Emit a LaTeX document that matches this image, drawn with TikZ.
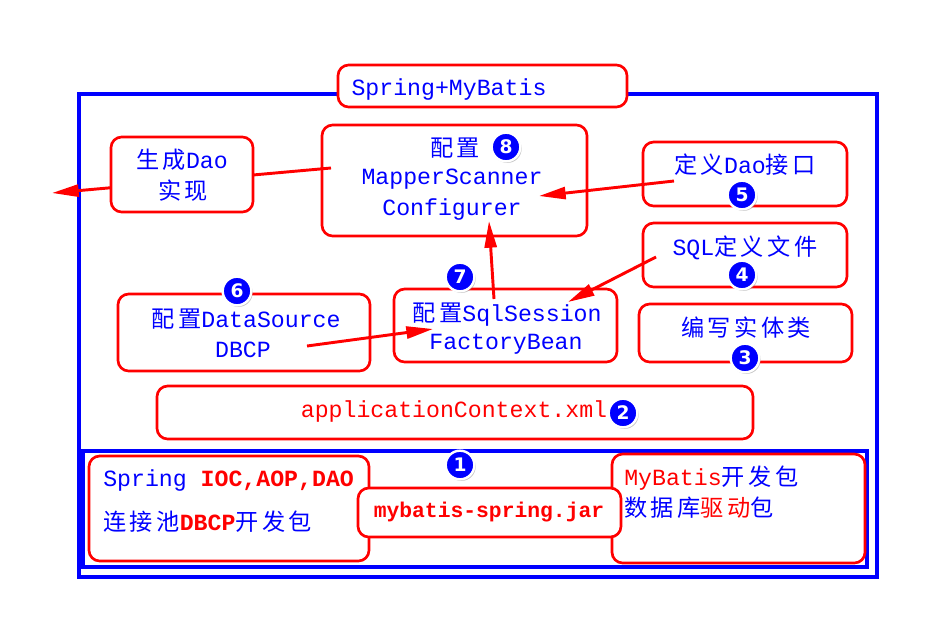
\documentclass[tikz,border=0pt]{standalone}
\usepackage{fontspec}
\setmonofont{Liberation Mono}
\newfontfamily\cjk[LetterSpace=15]{Noto Sans CJK SC}
\newfontfamily\numfont{DejaVu Sans}
\usetikzlibrary{arrows.meta,shadows}
\definecolor{rd}{RGB}{255,0,0}
\definecolor{bl}{RGB}{0,0,255}
\newcommand\C[1]{{\cjk #1}}
\newcommand\R[1]{\textcolor{rd}{#1}}
\newcommand\boxat[6]{\node[#1, minimum width={(#5-#3)*0.75pt}, minimum height={(#6-#4)*0.75pt}] (#2) at ({(#3+#5)/2},{(#4+#6)/2}) {};}
\begin{document}
\begin{tikzpicture}[x=0.75pt,y=-0.75pt,
  frame/.style={draw=bl, line width=2.4pt, inner sep=0},
  rbox/.style={draw=rd, line width=2pt, rounded corners=8pt, fill=white, inner sep=0},
  txt/.style={font=\ttfamily\fontsize{17.4}{20}\selectfont, text=bl, inner sep=0},
  small/.style={font=\ttfamily\bfseries\fontsize{16}{18}\selectfont, text=rd, inner sep=0},
  num/.style={circle, fill=bl, draw=white, line width=1.8pt, minimum size=21.5pt, inner sep=0,
    text=white, font=\numfont\bfseries\fontsize{14}{14}\selectfont,
    drop shadow={shadow xshift=1pt, shadow yshift=-1.2pt, opacity=0.45}},
  arr/.style={draw=rd, line width=2.2pt, -{Triangle[length=20pt,width=9pt]}}]
\useasboundingbox[fill=white] (0,0) rectangle (945,632);
% frames
\boxat{frame}{outer}{79}{94}{877}{577}
\boxat{frame}{inner}{83}{451}{867}{567}
% boxes
\boxat{rbox}{title}{338}{65}{627}{107}
\boxat{rbox}{mapper}{322}{125}{587}{236}
\coordinate (c1s) at (331,168);
\coordinate (c1e) at (52,193);
\draw[arr] (c1s) -- (c1e);
\boxat{rbox}{gen}{111}{137}{253}{212}
\boxat{rbox}{dao}{643}{142}{847}{206}
\boxat{rbox}{sql}{643}{223}{847}{287}
\boxat{rbox}{entity}{639}{304}{852}{362}
\boxat{rbox}{ds}{118}{294}{370}{371}
\boxat{rbox}{sqls}{394}{289}{617}{362}
\boxat{rbox}{app}{157}{386}{753}{439}
\boxat{rbox}{spr}{89}{456}{369}{561}
\boxat{rbox}{mbp}{612}{454}{865}{563}
\boxat{rbox}{mbs}{358}{488}{621}{537}
% arrows
\coordinate (c2s) at (674,181);
\coordinate (c2e) at (539,196);
\coordinate (c3s) at (494,299);
\coordinate (c3e) at (489,221);
\coordinate (c4s) at (656,257);
\coordinate (c4e) at (568,302);
\coordinate (c5s) at (307,346);
\coordinate (c5e) at (433,329);
\draw[arr] (c2s) -- (c2e);
\draw[arr] (c3s) -- (c3e);
\draw[arr] (c4s) -- (c4e);
\draw[arr] (c5s) -- (c5e);
% texts
\node[txt] (ttitle) at (449,89) {Spring+MyBatis};
\node[txt] (tgen1) at (182,160) {\C{生成}Dao};
\node[txt] (tgen2) at (183,191) {\C{实现}};
\node[txt] (tmap1) at (455,148) {\C{配置}};
\node[txt] (tmap2) at (452,179) {MapperScanner};
\node[txt] (tmap3) at (452,209) {Configurer};
\node[txt] (tdao) at (745,165) {\C{定义}Dao\C{接口}};
\node[txt] (tsql) at (745,248) {SQL\C{定义文件}};
\node[txt] (tent) at (746,328) {\C{编写实体类}};
\node[txt] (tds1) at (246,319) {\C{配置}DataSource};
\node[txt] (tds2) at (243,350) {DBCP};
\node[txt] (tss1) at (507,315) {\C{配置}SqlSession};
\node[txt] (tss2) at (506,344) {FactoryBean};
\node[txt, text=rd] (tapp) at (454,411) {applicationContext.xml};
\node[txt, anchor=west] (tspr1) at (103,480) {Spring \R{\bfseries IOC,AOP,DAO}};
\node[txt, anchor=west] (tspr2) at (103,522) {\C{连接池}\R{\bfseries DBCP}\C{开发包}};
\node[small] (tmbs) at (489,512) {mybatis-spring.jar};
\node[txt, anchor=west] (tmbp1) at (624,478) {\R{MyBatis}\C{开发包}};
\node[txt, anchor=west] (tmbp2) at (624,508) {\C{数据库}\R{\C{驱动}}\C{包}};
% numbers
\node[num] (n8) at (506,147) {8};
\node[num] (n5) at (742,195) {5};
\node[num] (n4) at (742,275) {4};
\node[num] (n3) at (745,358) {3};
\node[num] (n6) at (237,291) {6};
\node[num] (n7) at (460,277) {7};
\node[num] (n2) at (623,413) {2};
\node[num] (n1) at (460,465) {1};
\end{tikzpicture}
\end{document}
